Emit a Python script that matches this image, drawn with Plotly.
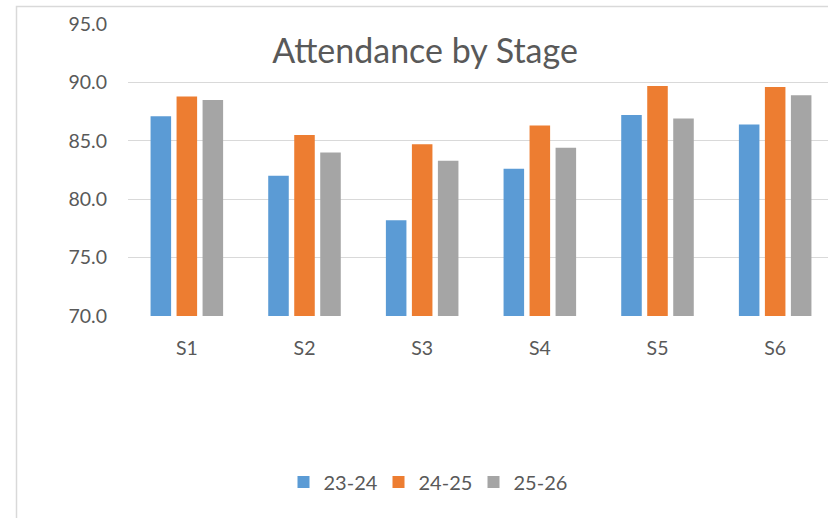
import plotly.graph_objects as go

categories = ["S1", "S2", "S3", "S4", "S5", "S6"]
series_names = ["23-24", "24-25", "25-26"]
vals_2324 = [87.1, 82.0, 78.2, 82.6, 87.2, 86.4]
vals_2425 = [88.8, 85.5, 84.7, 86.3, 89.7, 89.6]
vals_2526 = [88.5, 84.0, 83.3, 84.4, 86.9, 88.9]
colors = ["#5B9BD5", "#ED7D31", "#A5A5A5"]
y_ticks = [70, 75, 80, 85, 90, 95]
y_tick_labels = ["70.0", "75.0", "80.0", "85.0", "90.0", "95.0"]

FONT = "Lato"
TXT = "#595959"

fig = go.Figure()
for name, vals, col in zip(series_names, [vals_2324, vals_2425, vals_2526], colors):
    fig.add_trace(go.Bar(x=categories, y=vals, name=name,
                         marker=dict(color=col, line=dict(width=0))))

W, H = 828, 518
L, R, T, B = 128, 0, 24, 202
pw = W - L - R
ph = H - T - B

def px_x(p):
    return (p - L) / pw

def px_y(p):
    return (H - B - p) / ph

fig.update_layout(
    width=W, height=H,
    margin=dict(l=L, r=R, t=T, b=B, pad=0),
    paper_bgcolor="white", plot_bgcolor="white",
    barmode="group", bargap=0.337, bargroupgap=0.21,
    font=dict(family=FONT, color=TXT, size=19.5),
    title=dict(text="Attendance by Stage", x=425 / W, xanchor="center",
               xref="container",
               y=1 - 51 / H, yanchor="middle", yref="container",
               font=dict(family=FONT, size=34, color=TXT)),
    showlegend=True,
    legend=dict(orientation="h", x=px_x(426), xanchor="center",
                y=px_y(482), yanchor="middle",
                entrywidth=50, entrywidthmode="pixels",
                font=dict(family=FONT, size=20, color=TXT),
                bgcolor="rgba(0,0,0,0)", traceorder="normal"),
    xaxis=dict(range=[-0.5, 5.449], showgrid=False, zeroline=False,
               showline=False, ticks="", ticklabelstandoff=18,
               tickfont=dict(family=FONT, size=19.5, color=TXT)),
    yaxis=dict(range=[70, 95], tickvals=y_ticks, ticktext=y_tick_labels,
               showgrid=True, gridcolor="#D9D9D9", gridwidth=1.3,
               zeroline=False, showline=False, ticks="",
               ticklabelstandoff=20,
               tickfont=dict(family=FONT, size=19.5, color=TXT)),
)

# chart-area border (left and top edges visible in the crop)
fig.add_shape(type="path", xref="paper", yref="paper",
              path="M {x0},{y0} L {x0},{y1} L {x2},{y1}".format(
                  x0=px_x(16.5), y0=px_y(530), y1=px_y(6.5), x2=px_x(840)),
              line=dict(color="#D9D9D9", width=1.5))

fig.write_html("out.html")
